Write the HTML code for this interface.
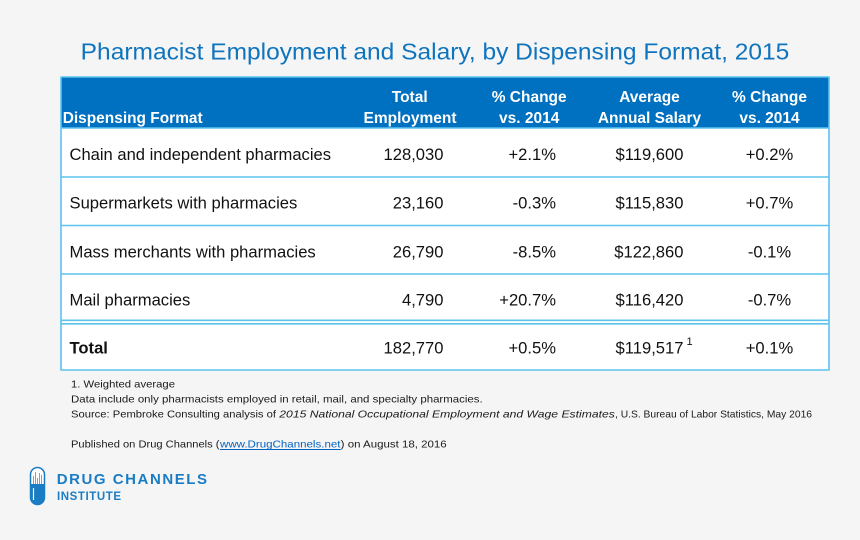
<!DOCTYPE html>
<html>
<head>
<meta charset="utf-8">
<style>
  html, body { margin:0; padding:0; background:#f5f5f5; }
  svg { display:block; }
  text { font-family: "Liberation Sans", Arial, sans-serif; }
</style>
</head>
<body>
<svg width="860" height="540" viewBox="0 0 860 540" xmlns="http://www.w3.org/2000/svg">
  <rect x="0" y="0" width="860" height="540" fill="#f5f5f5"/>

  <!-- Title -->
  <text x="80.7" y="59.3" font-size="23" fill="#0f74be" textLength="708.6" lengthAdjust="spacingAndGlyphs">Pharmacist Employment and Salary, by Dispensing Format, 2015</text>

  <!-- Table body -->
  <rect x="61" y="128" width="768" height="242" fill="#ffffff"/>
  <!-- Header -->
  <rect x="61" y="77" width="768" height="51" fill="#0070c0"/>

  <!-- Borders -->
  <g stroke="#5bc3ee" stroke-width="1.6" fill="none">
    <line x1="61" y1="77" x2="829" y2="77"/>
    <line x1="61" y1="76.5" x2="61" y2="370.5"/>
    <line x1="829" y1="76.5" x2="829" y2="370.5"/>
    <line x1="61" y1="128" x2="829" y2="128"/>
    <line x1="61" y1="177" x2="829" y2="177"/>
    <line x1="61" y1="225.5" x2="829" y2="225.5"/>
    <line x1="61" y1="274" x2="829" y2="274"/>
    <line x1="61" y1="320.3" x2="829" y2="320.3"/>
    <line x1="61" y1="323.8" x2="829" y2="323.8"/>
    <line x1="61" y1="370" x2="829" y2="370"/>
  </g>

  <!-- Header text -->
  <g fill="#ffffff" font-weight="bold" font-size="15.5">
    <text x="62.7" y="123" textLength="140" lengthAdjust="spacingAndGlyphs">Dispensing Format</text>
    <text x="409.7" y="102" text-anchor="middle">Total</text>
    <text x="410" y="123" text-anchor="middle">Employment</text>
    <text x="529.2" y="102" text-anchor="middle">% Change</text>
    <text x="529.2" y="123" text-anchor="middle">vs. 2014</text>
    <text x="649.5" y="102" text-anchor="middle">Average</text>
    <text x="649.5" y="123" text-anchor="middle">Annual Salary</text>
    <text x="769.5" y="102" text-anchor="middle">% Change</text>
    <text x="769.5" y="123" text-anchor="middle">vs. 2014</text>
  </g>

  <!-- Data -->
  <g fill="#111111" font-size="16.6">
    <text x="69.5" y="160" textLength="261.5" lengthAdjust="spacingAndGlyphs">Chain and independent  pharmacies</text>
    <text x="443.5" y="160" text-anchor="end">128,030</text>
    <text x="556" y="160" text-anchor="end">+2.1%</text>
    <text x="683.5" y="160" text-anchor="end">$119,600</text>
    <text x="769.5" y="160" text-anchor="middle">+0.2%</text>

    <text x="69.5" y="208.5">Supermarkets with pharmacies</text>
    <text x="443.5" y="208.5" text-anchor="end">23,160</text>
    <text x="556" y="208.5" text-anchor="end">-0.3%</text>
    <text x="683.5" y="208.5" text-anchor="end">$115,830</text>
    <text x="769.5" y="208.5" text-anchor="middle">+0.7%</text>

    <text x="69.5" y="257.3">Mass merchants with pharmacies</text>
    <text x="443.5" y="257.3" text-anchor="end">26,790</text>
    <text x="556" y="257.3" text-anchor="end">-8.5%</text>
    <text x="683.5" y="257.3" text-anchor="end">$122,860</text>
    <text x="769.5" y="257.3" text-anchor="middle">-0.1%</text>

    <text x="69.5" y="305.3">Mail pharmacies</text>
    <text x="443.5" y="305.3" text-anchor="end">4,790</text>
    <text x="556" y="305.3" text-anchor="end">+20.7%</text>
    <text x="683.5" y="305.3" text-anchor="end">$116,420</text>
    <text x="769.5" y="305.3" text-anchor="middle">-0.7%</text>

    <text x="69.5" y="353.5" font-weight="bold">Total</text>
    <text x="443.5" y="353.5" text-anchor="end">182,770</text>
    <text x="556" y="353.5" text-anchor="end">+0.5%</text>
    <text x="683.5" y="353.5" text-anchor="end">$119,517</text>
    <text x="686.5" y="345" font-size="11">1</text>
    <text x="769.5" y="353.5" text-anchor="middle">+0.1%</text>
  </g>

  <!-- Footnotes -->
  <g fill="#1a1a1a" font-size="10.5">
    <text x="71" y="387.3" textLength="104" lengthAdjust="spacingAndGlyphs">1. Weighted average</text>
    <text x="71" y="402.3" textLength="411.7" lengthAdjust="spacingAndGlyphs">Data include only pharmacists employed in retail, mail, and specialty pharmacies.</text>
    <text x="71" y="417.3" textLength="205" lengthAdjust="spacingAndGlyphs">Source: Pembroke Consulting analysis of</text>
    <text x="279.3" y="417.3" font-style="italic" textLength="335.5" lengthAdjust="spacingAndGlyphs">2015 National Occupational Employment and Wage Estimates</text>
    <text x="615" y="417.3" textLength="197" lengthAdjust="spacingAndGlyphs">, U.S. Bureau of Labor Statistics, May 2016</text>

    <text x="71" y="447.3" textLength="148.5" lengthAdjust="spacingAndGlyphs">Published on Drug Channels (</text>
    <text x="220" y="447.3" fill="#0563c1" textLength="120.5" lengthAdjust="spacingAndGlyphs">www.DrugChannels.net</text>
    <text x="340.7" y="447.3" textLength="106" lengthAdjust="spacingAndGlyphs">) on August 18, 2016</text>
  </g>
  <line x1="220" y1="449.5" x2="340.7" y2="449.5" stroke="#0563c1" stroke-width="0.9"/>

  <!-- Logo -->
  <g>
    <rect x="30.5" y="467.5" width="14" height="37" rx="7" ry="7" fill="#ffffff" stroke="#1a7dc4" stroke-width="1.5"/>
    <path d="M30.5 484 L44.5 484 L44.5 497.5 A7 7 0 0 1 30.5 497.5 Z" fill="#1a7dc4"/>
    <g stroke="#5aaee0" stroke-width="1">
      <line x1="33.5" y1="476" x2="33.5" y2="484"/>
      <line x1="35.5" y1="472" x2="35.5" y2="484"/>
      <line x1="37.5" y1="478" x2="37.5" y2="484"/>
      <line x1="39.5" y1="473" x2="39.5" y2="484"/>
      <line x1="41.5" y1="475" x2="41.5" y2="484"/>
    </g>
    <line x1="33.5" y1="488" x2="33.5" y2="500" stroke="#ffffff" stroke-width="1.2"/>
    <text x="56.7" y="484" font-size="15" font-weight="bold" fill="#1a7dc4" textLength="150.3" lengthAdjust="spacing">DRUG CHANNELS</text>
    <text x="57" y="500" font-size="11.5" font-weight="bold" fill="#1a7dc4" textLength="64" lengthAdjust="spacing">INSTITUTE</text>
  </g>
</svg>
</body>
</html>
